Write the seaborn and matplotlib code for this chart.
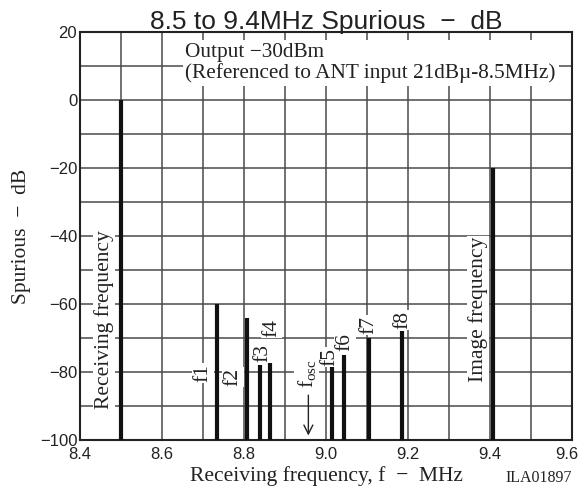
import matplotlib
matplotlib.use("Agg")
import matplotlib.pyplot as plt
import matplotlib.transforms as mtransforms
import seaborn as sns

# ---- data ----
freqs = [8.5, 8.733, 8.807, 8.84, 8.864, 9.015, 9.045, 9.106, 9.185, 9.408]
levels = [0, -60, -64, -78, -72, -78, -75, -70, -68, -20]
labels = ["Receiving frequency", "f1", "f2", "f3", "f4", "f5", "f6", "f7", "f8", "Image frequency"]
label_x = [8.459, 8.700, 8.773, 8.845, 8.867, 9.010, 9.046, 9.105, 9.188, 9.371]
label_y = [-91, -80.3, -81.5, -74.3, -67, -75.6, -71.2, -66.2, -64.7, -83]
fosc_x = 8.957
xticks = [8.4, 8.6, 8.8, 9.0, 9.2, 9.4, 9.6]
yticks = [-100, -80, -60, -40, -20, 0, 20]
xgrid = [8.4, 8.5, 8.6, 8.7, 8.8, 8.9, 9.0, 9.1, 9.2, 9.3, 9.4, 9.5, 9.6]
ygrid = [-100, -90, -80, -70, -60, -50, -40, -30, -20, -10, 0, 10, 20]

sns.set_theme(style="white")
plt.rcParams["font.family"] = ["Liberation Sans", "DejaVu Sans"]
plt.rcParams["mathtext.fontset"] = "custom"
plt.rcParams["mathtext.rm"] = "Liberation Serif"
plt.rcParams["mathtext.it"] = "Liberation Serif"

fig = plt.figure(figsize=(5.82, 4.88), dpi=100)
ax = fig.add_axes([80 / 582, 1 - 440 / 488, 492 / 582, 408 / 488])

ax.set_xlim(8.4, 9.6)
ax.set_ylim(-100, 20)

# grid
ax.xaxis.remove_overlapping_locs = False
ax.yaxis.remove_overlapping_locs = False
ax.set_xticks(xgrid, minor=True)
ax.set_yticks(ygrid, minor=True)
ax.set_xticks(xticks)
ax.set_yticks(yticks)
ax.grid(which="minor", color="#4a4a4a", linewidth=1.1, zorder=0)
ax.grid(which="major", visible=False)
ax.set_axisbelow(True)
ax.set_xticklabels([f"{v:.1f}" for v in xticks])
ax.set_yticklabels([("\u2212" + str(-v)) if v < 0 else str(v) for v in yticks])
ax.tick_params(which="both", length=0, labelsize=12, colors="#222222")
ax.tick_params(axis="x", pad=5)
ax.tick_params(axis="y", pad=2)
for s in ax.spines.values():
    s.set_color("#222222")
    s.set_linewidth(1.5)

# keep the last x tick label inside the canvas
last = ax.get_xticklabels()[-1]
last.set_transform(last.get_transform() +
                   mtransforms.ScaledTranslation(-5 / 100, 0, fig.dpi_scale_trans))

# bars
ax.vlines(freqs, -100, levels, colors="#111111", linewidth=3, zorder=4)

serif = ["Liberation Serif", "DejaVu Serif"]
for lx, ly, t in zip(label_x, label_y, labels):
    va = "bottom" if t in ("Receiving frequency", "Image frequency") else "center"
    ax.text(lx, ly, t, rotation=90, ha="center", va=va, fontsize=15.5,
            family=serif, color="#222222", zorder=5,
            bbox=dict(facecolor="white", edgecolor="none", pad=1))

# f_osc label and arrow
ax.text(fosc_x - 0.004, -80.5, r"f$_{\rm osc}$", rotation=90, ha="center", va="center",
        fontsize=15.5, family=serif, color="#222222", zorder=5,
        bbox=dict(facecolor="white", edgecolor="none", pad=1))
ax.annotate("", xy=(fosc_x, -99.5), xytext=(fosc_x, -86),
            arrowprops=dict(arrowstyle="->", color="#222222", lw=1.0,
                            mutation_scale=16), zorder=5)

# annotation box
ax.text(8.657, 16.8, "Output \u221230dBm\n(Referenced to ANT input 21dB\u00b5-8.5MHz)",
        ha="left", va="top", fontsize=15.3, family=serif, color="#222222",
        linespacing=1.1, zorder=5,
        bbox=dict(facecolor="white", edgecolor="none", pad=2))

ax.set_title("8.5 to 9.4MHz Spurious  \u2212  dB", fontsize=19, color="#222222", pad=2)
ax.set_xlabel("Receiving frequency, f  \u2212  MHz", fontsize=15.5, family=serif,
              color="#222222", labelpad=3)
ax.set_ylabel("Spurious  \u2212  dB", fontsize=15.5, family=serif, color="#222222",
              labelpad=6)
fig.text(505 / 582, 1 - 482 / 488, "ILA01897", fontsize=11.5, family=serif,
         color="#222222", ha="left", va="baseline")

fig.savefig("out.png", dpi=100, facecolor="white")
